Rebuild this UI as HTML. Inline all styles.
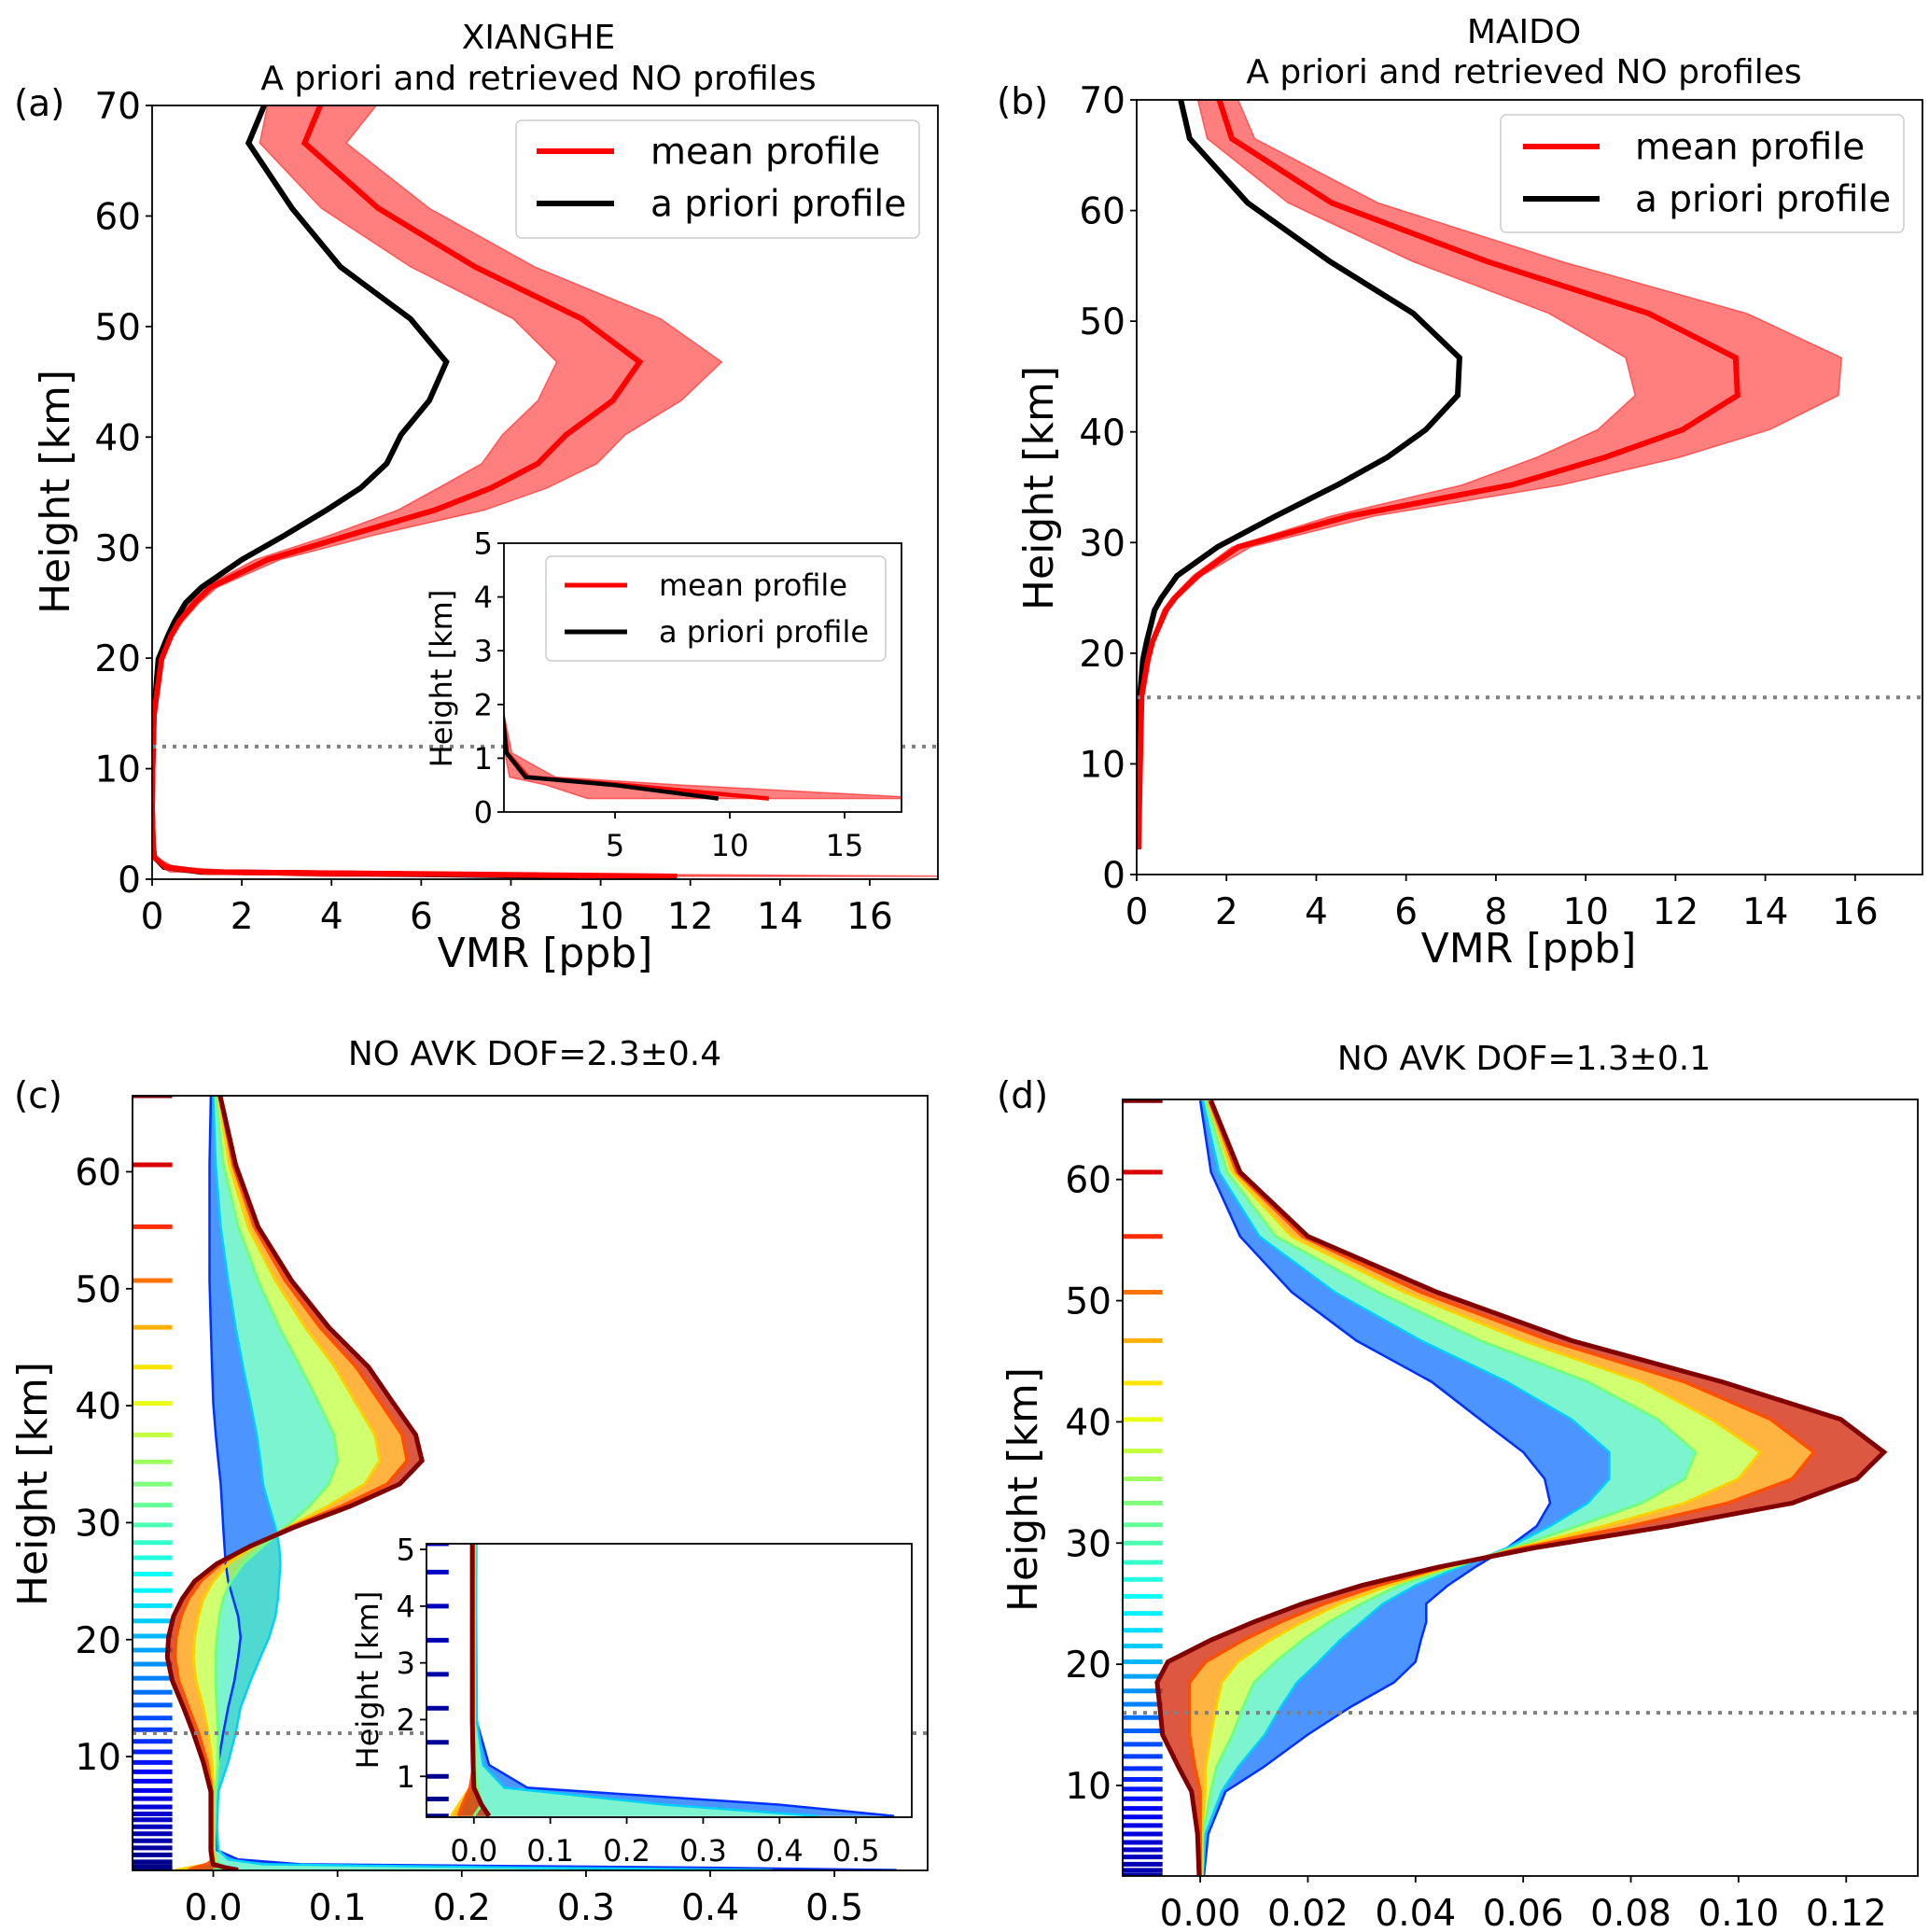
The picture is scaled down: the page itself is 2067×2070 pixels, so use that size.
<!DOCTYPE html>
<html><head><meta charset="utf-8"><title>NO profiles and AVK</title>
<style>
html,body{margin:0;padding:0;background:#fff;}
svg text{font-family:"DejaVu Sans","Liberation Sans",sans-serif;fill:#000;}
</style></head>
<body>
<svg id="fig" xmlns="http://www.w3.org/2000/svg" width="2067" height="2065" viewBox="0 0 2067 2065">
<rect x="0" y="0" width="2067" height="2065" fill="#fff"/>
</svg>
<script>
// ---------- Panel (a) XIANGHE profiles ----------
const heightsA = [70,66.6,60.7,55.4,50.7,46.8,43.3,40.2,37.6,35.4,33.4,31.1,28.9,26.4,25,23.3,22,19.9,14.8,10,6.4,3,2,1.1,0.65,0.5,0.25];
const aprioriA = [2.50,2.15,3.12,4.20,5.76,6.56,6.18,5.55,5.23,4.65,3.89,2.95,2.00,1.10,0.75,0.50,0.35,0.14,0.04,0.01,0,0.02,0.05,0.27,1.1,5.0,9.5];
const meanA    = [3.75,3.40,5.04,7.20,9.58,10.87,10.27,9.23,8.60,7.56,6.31,4.37,2.57,1.30,0.95,0.60,0.42,0.21,0.04,0.01,0,0.02,0.05,0.3,1.2,5.5,11.7];
const lowA     = [2.57,2.40,3.77,5.76,8.05,9.02,8.60,7.81,7.35,6.38,5.48,3.95,2.29,1.15,0.85,0.52,0.38,0.18,0.03,0.01,0,0.01,0.03,0.2,0.4,2.0,3.8];
const highA    = [5.0,4.33,6.18,8.53,11.34,12.70,11.80,10.55,9.92,8.81,7.42,4.93,2.85,1.45,1.05,0.68,0.47,0.25,0.05,0.02,0.01,0.03,0.08,0.5,2.4,8,19];
const tropoA = 12;
// ---------- Panel (b) MAIDO profiles ----------
const heightsB = [70,66.5,60.7,55.4,50.7,46.7,43.3,40.2,37.7,35.2,32.4,29.6,27,25,23.9,21,19.4,16.1,8.8,2.3];
const aprioriB = [0.98,1.18,2.47,4.30,6.16,7.19,7.15,6.44,5.58,4.47,3.10,1.80,0.90,0.55,0.40,0.22,0.14,0.07,0.04,0.04];
const meanB    = [1.84,2.12,4.34,7.80,11.40,13.34,13.38,12.16,10.43,8.35,4.75,2.26,1.35,0.85,0.65,0.35,0.25,0.11,0.07,0.04];
const lowB     = [1.36,1.57,3.37,6.14,9.18,10.89,11.10,10.27,8.91,7.25,4.34,2.12,1.25,0.78,0.58,0.32,0.22,0.10,0.06,0.04];
const highB    = [2.26,2.63,5.37,9.46,13.59,15.70,15.63,14.10,12.09,9.46,5.31,2.54,1.45,0.92,0.72,0.38,0.28,0.12,0.08,0.05];
const tropoB = 16;
const vmrTicks = [0,2,4,6,8,10,12,14,16];
const heightTicks = [0,10,20,30,40,50,60,70];
const insetXTicksA = [5,10,15];
const insetYTicks = [0,1,2,3,4,5];
// ---------- Panel (c) XIANGHE AVK ----------
const heightsC = [66.5,60.6,55.3,50.7,46.7,43.3,40.2,37.5,35.3,33.3,31.4,29.6,28,26.5,25,23.5,22,20.2,18.5,16.5,14.2,12,9.5,7,4,2,1.2,0.8,0.5,0.3];
const avkC_darkred = [0.0055,0.018,0.036,0.063,0.093,0.125,0.145,0.163,0.168,0.150,0.110,0.065,0.030,0.003,-0.015,-0.025,-0.032,-0.036,-0.037,-0.033,-0.024,-0.016,-0.008,-0.002,-0.002,-0.002,-0.001,0.0,0.01,0.02];
const avkC_orange  = [0.005,0.016,0.033,0.058,0.086,0.115,0.135,0.152,0.156,0.140,0.103,0.062,0.030,0.006,-0.010,-0.020,-0.026,-0.030,-0.031,-0.028,-0.020,-0.012,-0.005,-0.001,-0.001,-0.001,0,-0.005,-0.015,-0.02];
const avkC_yellow  = [0.004,0.013,0.028,0.050,0.074,0.098,0.115,0.130,0.134,0.122,0.092,0.060,0.033,0.012,0.000,-0.008,-0.012,-0.015,-0.016,-0.014,-0.008,-0.004,-0.001,0,0,0,0.001,-0.005,-0.02,-0.03];
const avkC_green   = [0.002,0.008,0.020,0.036,0.053,0.070,0.085,0.097,0.100,0.093,0.077,0.058,0.040,0.024,0.014,0.008,0.005,0.003,0.002,0.002,0.003,0.004,0.004,0.002,0.001,0.001,0.002,0.005,0.01,0.0];
const avkC_cyan    = [0.0,0.002,0.006,0.012,0.018,0.024,0.030,0.035,0.038,0.040,0.045,0.050,0.053,0.054,0.053,0.052,0.050,0.045,0.038,0.030,0.022,0.018,0.012,0.004,0.003,0.004,0.012,0.04,0.25,0.45];
const avkC_blue    = [-0.002,-0.003,-0.003,-0.003,-0.002,-0.001,0.0,0.002,0.004,0.006,0.007,0.008,0.009,0.010,0.012,0.016,0.020,0.022,0.020,0.017,0.012,0.008,0.004,0.002,0.002,0.003,0.02,0.07,0.4,0.55];
const layersC = [66.5,60.6,55.3,50.7,46.7,43.3,40.2,37.5,35.2,33.3,31.5,29.8,28.3,27,25.6,24.2,22.9,21.6,20.3,19.1,17.9,16.7,15.5,14.4,13.3,12.3,11.3,10.4,9.5,8.7,7.9,7.1,6.4,5.7,5.1,4.6,4.0,3.4,2.8,2.2,1.6,1.0,0.6,0.3];
const tropoC = 12;
const avkXTicksC = [0,0.1,0.2,0.3,0.4,0.5];
const avkXLabelsC = ["0.0","0.1","0.2","0.3","0.4","0.5"];
const avkYTicks = [10,20,30,40,50,60];
const insetYTicksC = [1,2,3,4,5];
// ---------- Panel (d) MAIDO AVK ----------
const heightsD = [66.5,60.6,55.3,50.7,46.7,43.3,40.2,37.5,35.3,33.3,31.4,29.6,28,26.5,25,23.5,22,20.2,18.5,16.5,14.2,11.5,9.5,6,2.6];
const avkD_darkred = [0.002,0.0074,0.020,0.044,0.069,0.097,0.119,0.127,0.122,0.110,0.087,0.062,0.044,0.030,0.019,0.010,0.002,-0.006,-0.008,-0.0075,-0.007,-0.004,-0.0016,-0.0005,-0.0002];
const avkD_orange  = [0.0017,0.0068,0.019,0.041,0.065,0.090,0.106,0.114,0.110,0.098,0.080,0.060,0.045,0.033,0.023,0.015,0.008,0.001,-0.002,-0.002,-0.002,-0.001,0,0,0];
const avkD_yellow  = [0.0014,0.006,0.017,0.038,0.060,0.082,0.095,0.104,0.100,0.090,0.075,0.059,0.046,0.035,0.026,0.019,0.013,0.007,0.004,0.003,0.002,0.001,0.001,0.0002,0.0002];
const avkD_green   = [0.001,0.005,0.014,0.033,0.052,0.072,0.085,0.092,0.090,0.082,0.070,0.058,0.047,0.037,0.030,0.024,0.019,0.014,0.010,0.008,0.006,0.003,0.002,0.0005,0.0004];
const avkD_cyan    = [0.0005,0.0035,0.011,0.025,0.041,0.057,0.069,0.076,0.076,0.072,0.065,0.057,0.048,0.040,0.034,0.030,0.026,0.022,0.018,0.015,0.012,0.007,0.004,0.001,0.0005];
const avkD_blue    = [0,0.002,0.0074,0.017,0.029,0.043,0.052,0.060,0.064,0.065,0.0625,0.057,0.051,0.046,0.042,0.042,0.041,0.040,0.036,0.028,0.020,0.0117,0.0047,0.0015,0.0007];
const layersD = [66.5,60.6,55.3,50.7,46.7,43.2,40.2,37.6,35.3,33.3,31.5,30,28.4,27,25.6,24.2,22.8,21.5,20.2,19,17.8,16.7,15.6,14.5,13.4,12.4,11.4,10.5,9.7,8.9,8.1,7.4,6.7,6.0,5.3,4.7,4.1,3.5,3.0,2.6];
const tropoD = 16;
const avkXTicksD = [0,0.02,0.04,0.06,0.08,0.10,0.12];
const avkXLabelsD = ["0.00","0.02","0.04","0.06","0.08","0.10","0.12"];

const NS = 'http://www.w3.org/2000/svg';
const fig = document.getElementById('fig');
function mk(tag, parent){ const e = document.createElementNS(NS, tag); parent.appendChild(e); return e; }
function set(e, o){ for (const k in o) e.setAttribute(k, o[k]); return e; }
let clipId = 0;
function makeAxes(p){
  const g = mk('g', fig);
  const sx = v => p.x0 + (v - p.xmin) / (p.xmax - p.xmin) * (p.x1 - p.x0);
  const sy = v => p.y1 - (v - p.ymin) / (p.ymax - p.ymin) * (p.y1 - p.y0);
  const id = 'clip' + (clipId++);
  const cp = mk('clipPath', g); cp.setAttribute('id', id);
  set(mk('rect', cp), {x:p.x0, y:p.y0, width:p.x1-p.x0, height:p.y1-p.y0});
  const bg = set(mk('rect', g), {x:p.x0, y:p.y0, width:p.x1-p.x0, height:p.y1-p.y0, fill:'#fff'});
  
  
  const plot = mk('g', g); plot.setAttribute('clip-path', 'url(#' + id + ')');
  return {p, g, plot, sx, sy};
}
function pts(ax, xs, hs){ return xs.map((x,i) => ax.sx(x).toFixed(1) + ',' + ax.sy(hs[i]).toFixed(1)).join(' '); }
function line(ax, xs, hs, color, w, name){
  const l = set(mk('polyline', ax.plot), {points:pts(ax, xs, hs), fill:'none', stroke:color, 'stroke-width':w, 'stroke-linejoin':'miter'});
  
  
  return l;
}
function band(ax, lo, hi, hs, color, op, name){
  const a = lo.map((x,i)=>ax.sx(x).toFixed(1)+','+ax.sy(hs[i]).toFixed(1));
  const b = hi.map((x,i)=>ax.sx(x).toFixed(1)+','+ax.sy(hs[i]).toFixed(1)).reverse();
  const pg = set(mk('polygon', ax.plot), {points:a.concat(b).join(' '), fill:color, 'fill-opacity':op, stroke:color, 'stroke-opacity':op, 'stroke-width':1.5});
  
  
}
function hdotted(ax, h, name){
  const l = set(mk('line', ax.g), {x1:ax.p.x0, x2:ax.p.x1, y1:ax.sy(h), y2:ax.sy(h), stroke:'#808080', 'stroke-width':4, 'stroke-dasharray':'4 7'});
  
  
}
function frame(ax, xt, xl, yt, yl, fs, xoff){
  const p = ax.p;
  const r = set(mk('rect', ax.g), {x:p.x0, y:p.y0, width:p.x1-p.x0, height:p.y1-p.y0, fill:'none', stroke:'#000', 'stroke-width':1.8});
  
  
  xt.forEach((v,i)=>{
    const x = ax.sx(v);
    const t = set(mk('line', ax.g), {x1:x, x2:x, y1:p.y1, y2:p.y1+7, stroke:'#000', 'stroke-width':1.8});
    
    
    const tx = set(mk('text', ax.g), {x:x, y:p.y1+xoff, 'font-size':fs, 'text-anchor':'middle'});
    tx.textContent = xl[i];
    
    
  });
  yt.forEach((v,i)=>{
    const y = ax.sy(v);
    const t = set(mk('line', ax.g), {x1:p.x0-7, x2:p.x0, y1:y, y2:y, stroke:'#000', 'stroke-width':1.8});
    
    
    const tx = set(mk('text', ax.g), {x:p.x0-12, y:y+fs*0.36, 'font-size':fs, 'text-anchor':'end'});
    tx.textContent = yl[i];
    
    
  });
}
function txt(x, y, s, fs, anchor, name, rot){
  const t = set(mk('text', fig), {x:x, y:y, 'font-size':fs, 'text-anchor':anchor});
  if (rot) t.setAttribute('transform', 'rotate(-90 ' + x + ' ' + y + ')');
  t.textContent = s;
  
  
  return t;
}
function legend(box, lines, fs, lw){
  const g = mk('g', fig);
  
  
  set(mk('rect', g), {x:box.x, y:box.y, width:box.w, height:box.h, rx:6, fill:'#fff', 'fill-opacity':0.8, stroke:'#ccc', 'stroke-width':1.5});
  lines.forEach(L=>{
    const ln = set(mk('line', g), {x1:L.lx0, x2:L.lx1, y1:L.y, y2:L.y, stroke:L.c, 'stroke-width':lw});
    
    
    const t = set(mk('text', g), {x:L.tx, y:L.y+fs*0.34, 'font-size':fs});
    t.textContent = L.s;
    
    
  });
}
function jet(v){
  const c = x => Math.round(255*Math.max(0, Math.min(1, x)));
  return 'rgb(' + c(1.5-Math.abs(4*v-3)) + ',' + c(1.5-Math.abs(4*v-2)) + ',' + c(1.5-Math.abs(4*v-1)) + ')';
}
function dashes(ax, layers, x0v, x1v, hmax){
  layers.forEach(h=>{
    if (h > ax.p.ymax + 0.01 || h < ax.p.ymin) return;
    const d = set(mk('line', ax.plot), {x1:ax.sx(x0v), x2:ax.sx(x1v), y1:ax.sy(h), y2:ax.sy(h), stroke:jet(h/hmax), 'stroke-width':5});
    
    
  });
}
function avk(ax, hs, curves, cols, widths){
  for (let i=0;i<curves.length-1;i++){
    const a = curves[i].map((x,k)=>ax.sx(x).toFixed(1)+','+ax.sy(hs[k]).toFixed(1));
    const b = curves[i+1].map((x,k)=>ax.sx(x).toFixed(1)+','+ax.sy(hs[k]).toFixed(1)).reverse();
    const pg = set(mk('polygon', ax.plot), {points:a.concat(b).join(' '), fill:cols[i][1], 'fill-opacity':0.75, stroke:'none', 'fill-rule':'nonzero'});
    
    
  }
  curves.forEach((c,i)=>line(ax, c, hs, cols[i][0], widths[i], 'avk-curve'));
}

const FT = 39, FL = 44, FTI = 36, FLG = 39, FI = 32;

// ===== Panel (a) =====
const axA = makeAxes({name:'panel-a', x0:163, x1:1005, y0:113, y1:942, xmin:0, xmax:17.52, ymin:0, ymax:70});
band(axA, lowA, highA, heightsA, '#ff0000', 0.5, 'spread-band-a');
line(axA, aprioriA, heightsA, '#000', 6, 'apriori-line-a');
line(axA, meanA, heightsA, '#ff0000', 6, 'mean-line-a');
hdotted(axA, tropoA, 'tropopause-line-a');
frame(axA, vmrTicks, vmrTicks.map(String), heightTicks, heightTicks.map(String), FT, 53);
const axAi = makeAxes({name:'inset-a', x0:540, x1:966, y0:582, y1:870, xmin:0.16, xmax:17.48, ymin:0, ymax:5});
band(axAi, lowA, highA, heightsA, '#ff0000', 0.5, 'spread-band-inset-a');
line(axAi, meanA, heightsA, '#ff0000', 4.5, 'mean-line-inset-a');
line(axAi, aprioriA, heightsA, '#000', 4.5, 'apriori-line-inset-a');
frame(axAi, insetXTicksA, insetXTicksA.map(String), insetYTicks, insetYTicks.map(String), FI, 47);
txt(15, 124, '(a)', FT, 'start', 'panel-label-a');
txt(577, 52, 'XIANGHE', FTI, 'middle', 'title-a-station');
txt(577, 96, 'A priori and retrieved NO profiles', FTI, 'middle', 'title-a');
txt(584, 1036, 'VMR [ppb]', FL, 'middle', 'x-axis-title-a');
txt(74, 527, 'Height [km]', FL, 'middle', 'y-axis-title-a', true);
txt(484, 727, 'Height [km]', FI, 'middle', 'y-axis-title-inset-a', true);
legend({x:553,y:129,w:432,h:126}, [{lx0:575,lx1:658,y:162,c:'#ff0000',tx:697,s:'mean profile'},{lx0:575,lx1:658,y:218,c:'#000',tx:697,s:'a priori profile'}], FLG, 6);
legend({x:585,y:596,w:364,h:112}, [{lx0:605,lx1:672,y:627,c:'#ff0000',tx:706,s:'mean profile'},{lx0:605,lx1:672,y:677,c:'#000',tx:706,s:'a priori profile'}], FI, 5);

// ===== Panel (b) =====
const axB = makeAxes({name:'panel-b', x0:1218, x1:2060, y0:107, y1:937, xmin:0, xmax:17.5, ymin:0, ymax:70});
band(axB, lowB, highB, heightsB, '#ff0000', 0.5, 'spread-band-b');
line(axB, aprioriB, heightsB, '#000', 6, 'apriori-line-b');
line(axB, meanB, heightsB, '#ff0000', 6, 'mean-line-b');
hdotted(axB, tropoB, 'tropopause-line-b');
frame(axB, vmrTicks, vmrTicks.map(String), heightTicks, heightTicks.map(String), FT, 53);
txt(1068, 122, '(b)', FT, 'start', 'panel-label-b');
txt(1633, 46, 'MAIDO', FTI, 'middle', 'title-b-station');
txt(1633, 89, 'A priori and retrieved NO profiles', FTI, 'middle', 'title-b');
txt(1638, 1031, 'VMR [ppb]', FL, 'middle', 'x-axis-title-b');
txt(1128, 523, 'Height [km]', FL, 'middle', 'y-axis-title-b', true);
legend({x:1608,y:123,w:432,h:126}, [{lx0:1632,lx1:1714,y:157,c:'#ff0000',tx:1752,s:'mean profile'},{lx0:1632,lx1:1714,y:213,c:'#000',tx:1752,s:'a priori profile'}], FLG, 6);

// AVK colours
const avkCols = [['#0030ff','#1070ff'],['#00d0ff','#50f0c0'],['#70ff80','#c0ff40'],['#ffd000','#ff9a00'],['#ff5000','#d02000'],['#800000','#800000']];
const avkW = [2.5,2.5,3,3,3.5,5];

// ===== Panel (c) =====
const axC = makeAxes({name:'panel-c', x0:142, x1:994, y0:1174, y1:2004, xmin:-0.065, xmax:0.575, ymin:0.27, ymax:66.5});
dashes(axC, layersC, -0.065, -0.033, 66.5);
avk(axC, heightsC, [avkC_blue, avkC_cyan, avkC_green, avkC_yellow, avkC_orange, avkC_darkred], avkCols, avkW);
hdotted(axC, tropoC, 'tropopause-line-c');
frame(axC, avkXTicksC, avkXLabelsC, avkYTicks, avkYTicks.map(String), FT, 53);
const axCi = makeAxes({name:'inset-c', x0:457, x1:977, y0:1654, y1:1947, xmin:-0.062, xmax:0.573, ymin:0.28, ymax:5.1});
dashes(axCi, layersC, -0.062, -0.033, 66.5);
avk(axCi, heightsC, [avkC_blue, avkC_cyan, avkC_green, avkC_yellow, avkC_orange, avkC_darkred], avkCols, avkW);
frame(axCi, avkXTicksC, avkXLabelsC, insetYTicksC, insetYTicksC.map(String), FI, 47);
txt(15, 1187, '(c)', FT, 'start', 'panel-label-c');
txt(573, 1141, 'NO AVK DOF=2.3±0.4', FTI, 'middle', 'title-c');
txt(50, 1590, 'Height [km]', FL, 'middle', 'y-axis-title-c', true);
txt(405, 1800, 'Height [km]', FI, 'middle', 'y-axis-title-inset-c', true);

// ===== Panel (d) =====
const axD = makeAxes({name:'panel-d', x0:1203, x1:2055, y0:1178, y1:2010, xmin:-0.0144, xmax:0.1333, ymin:2.53, ymax:66.6});
dashes(axD, layersD, -0.0144, -0.007, 66.5);
avk(axD, heightsD, [avkD_blue, avkD_cyan, avkD_green, avkD_yellow, avkD_orange, avkD_darkred], avkCols, avkW);
hdotted(axD, tropoD, 'tropopause-line-d');
frame(axD, avkXTicksD, avkXLabelsD, avkYTicks, avkYTicks.map(String), FT, 53);
txt(1068, 1187, '(d)', FT, 'start', 'panel-label-d');
txt(1633, 1146, 'NO AVK DOF=1.3±0.1', FTI, 'middle', 'title-d');
txt(1111, 1596, 'Height [km]', FL, 'middle', 'y-axis-title-d', true);
</script>
</body></html>
